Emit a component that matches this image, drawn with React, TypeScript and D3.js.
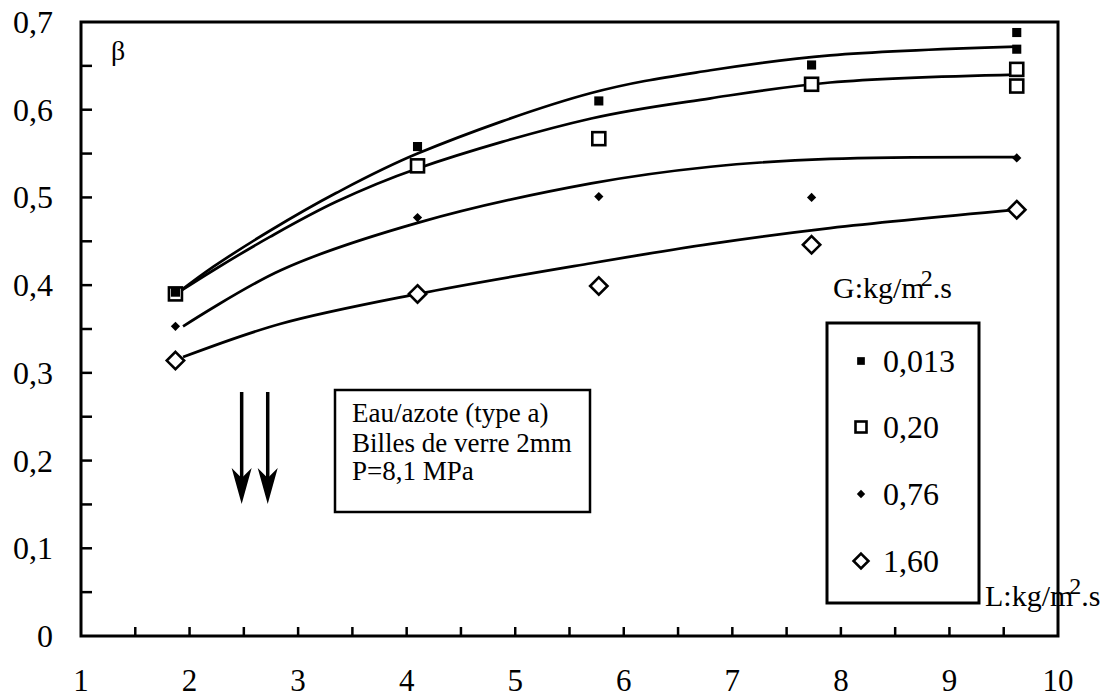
import React from "react";
import * as d3 from "d3";

// ---- data ----
const xTickValues = [1, 2, 3, 4, 5, 6, 7, 8, 9, 10];
const yTickValues = [0, 0.1, 0.2, 0.3, 0.4, 0.5, 0.6, 0.7];
const seriesLabels = ["0,013", "0,20", "0,76", "1,60"];
const seriesSymbols = ["filledSquare", "openSquare", "filledDiamond", "openDiamond"];

// measured points (L, beta)
const ptsG013 = [[1.87, 0.392], [4.1, 0.558], [5.77, 0.61], [7.73, 0.651], [9.62, 0.669], [9.62, 0.688]];
const ptsG020 = [[1.87, 0.39], [4.1, 0.536], [5.77, 0.567], [7.73, 0.629], [9.62, 0.627], [9.62, 0.646]];
const ptsG076 = [[1.87, 0.353], [4.1, 0.477], [5.77, 0.501], [7.73, 0.5], [9.62, 0.545]];
const ptsG160 = [[1.87, 0.314], [4.1, 0.39], [5.77, 0.399], [7.73, 0.446], [9.62, 0.486]];

// fitted curves
const fitG013X = [1.9, 2.22, 2.74, 3.35, 4.1, 5.7, 6.8, 7.9, 9.62];
const fitG013Y = [0.392, 0.421, 0.462, 0.505, 0.55, 0.619, 0.645, 0.662, 0.672];
const fitG020X = [1.9, 2.22, 2.74, 3.35, 4.1, 5.7, 6.8, 7.9, 9.62];
const fitG020Y = [0.392, 0.417, 0.455, 0.495, 0.533, 0.59, 0.613, 0.631, 0.64];
const fitG076X = [1.94, 2.84, 4.1, 5.7, 6.8, 7.9, 9.62];
const fitG076Y = [0.353, 0.417, 0.471, 0.516, 0.535, 0.544, 0.546];
const fitG160X = [1.94, 2.84, 4.1, 5.7, 6.8, 7.9, 9.62];
const fitG160Y = [0.318, 0.356, 0.39, 0.425, 0.447, 0.465, 0.486];

const boxLines = ["Eau/azote (type a)", "Billes de verre 2mm", "P=8,1 MPa"];
const arrowXs = [2.48, 2.72];

const FONT = "'Liberation Serif', 'Times New Roman', serif";

function Marker({ kind, cx, cy, s }: { kind: string; cx: number; cy: number; s: number }) {
  if (kind === "filledSquare") {
    return <rect x={cx - s * 0.35} y={cy - s * 0.35} width={s * 0.7} height={s * 0.7} fill="#000" />;
  }
  if (kind === "openSquare") {
    return <rect x={cx - s * 0.5} y={cy - s * 0.5} width={s} height={s} fill="#fff" stroke="#000" strokeWidth={2.6} />;
  }
  if (kind === "filledDiamond") {
    const r = s * 0.42;
    return <path d={`M${cx},${cy - r}L${cx + r},${cy}L${cx},${cy + r}L${cx - r},${cy}Z`} fill="#000" />;
  }
  const r = s * 0.62;
  return <path d={`M${cx},${cy - r}L${cx + r},${cy}L${cx},${cy + r}L${cx - r},${cy}Z`} fill="#fff" stroke="#000" strokeWidth={2.6} />;
}

export default function App() {
  const W = 1117, H = 699;
  const x = d3.scaleLinear().domain([1, 10]).range([81, 1058]);
  const y = d3.scaleLinear().domain([0, 0.7]).range([636, 22]);

  const line = d3
    .line<[number, number]>()
    .x((d) => x(d[0]))
    .y((d) => y(d[1]))
    .curve(d3.curveCatmullRom.alpha(0.5));

  const fits = [
    d3.zip(fitG013X, fitG013Y),
    d3.zip(fitG020X, fitG020Y),
    d3.zip(fitG076X, fitG076Y),
    d3.zip(fitG160X, fitG160Y),
  ] as [number, number][][];
  const pts = [ptsG013, ptsG020, ptsG076, ptsG160];
  const markerSize = [13, 13, 11, 14];

  const xMinor = d3.range(1.5, 10, 0.5);
  const yMinor = d3.range(1, 14).map((i) => i * 0.05);

  const legendRows = [372, 438, 505, 572];

  return (
    <svg
      width={W}
      height={H}
      style={{ position: "absolute", left: 0, top: 0, background: "#fff" }}
      fontFamily={FONT}
    >
      <rect x={0} y={0} width={W} height={H} fill="#fff" />

      {/* curves */}
      {fits.map((f, i) => (
        <path key={"c" + i} d={line(f) || ""} fill="none" stroke="#000" strokeWidth={2.7} />
      ))}

      {/* points */}
      {[3, 2, 1, 0].map((si) =>
        pts[si].map((p, j) => (
          <Marker key={`m${si}-${j}`} kind={seriesSymbols[si]} cx={x(p[0])} cy={y(p[1])} s={markerSize[si]} />
        ))
      )}

      {/* frame */}
      <rect x={x(1)} y={y(0.7)} width={x(10) - x(1)} height={y(0) - y(0.7)} fill="none" stroke="#000" strokeWidth={3} />

      {/* y ticks */}
      {yMinor.map((v, i) => (
        <line key={"yt" + i} x1={x(1)} x2={x(1) + 11} y1={y(v)} y2={y(v)} stroke="#000" strokeWidth={2.5} />
      ))}
      {/* x ticks */}
      {xMinor.map((v, i) => (
        <line key={"xt" + i} x1={x(v)} x2={x(v)} y1={y(0)} y2={y(0) - 9} stroke="#000" strokeWidth={2.5} />
      ))}

      {/* y labels */}
      {yTickValues.map((v, i) => (
        <text key={"yl" + i} x={53} y={y(v) + 11} textAnchor="end" fontSize={32}>
          {v === 0 ? "0" : d3.format(".1f")(v).replace(".", ",")}
        </text>
      ))}
      {/* x labels */}
      {xTickValues.map((v, i) => (
        <text key={"xl" + i} x={x(v)} y={691} textAnchor="middle" fontSize={31}>
          {String(v)}
        </text>
      ))}

      {/* beta */}
      <text x={111} y={60} fontSize={28}>β</text>

      {/* arrows */}
      {arrowXs.map((a, i) => {
        const ax = x(a);
        return (
          <g key={"ar" + i}>
            <line x1={ax} x2={ax} y1={392} y2={485} stroke="#000" strokeWidth={3.5} />
            <path d={`M${ax},${504}L${ax - 10},${468}L${ax},${478}L${ax + 10},${468}Z`} fill="#000" />
          </g>
        );
      })}

      {/* text box */}
      <rect x={335} y={390} width={255} height={122} fill="#fff" stroke="#000" strokeWidth={2.5} />
      {boxLines.map((t, i) => (
        <text key={"bl" + i} x={352} y={[422, 452, 480][i]} fontSize={27}>
          {t}
        </text>
      ))}

      {/* G label */}
      <text x={833} y={298} fontSize={30}>
        G:kg/m<tspan dy={-12} dx={-4} fontSize={24}>2</tspan><tspan dy={12}>.s</tspan>
      </text>

      {/* legend */}
      <rect x={827} y={323} width={152} height={280} fill="#fff" stroke="#000" strokeWidth={3} />
      {seriesLabels.map((lab, i) => (
        <g key={"lg" + i}>
          <Marker kind={seriesSymbols[i]} cx={861} cy={legendRows[i] - 11} s={[11, 11, 10, 12][i]} />
          <text x={883} y={legendRows[i]} fontSize={32}>
            {lab}
          </text>
        </g>
      ))}

      {/* L label */}
      <text x={985} y={606} fontSize={30}>
        L:kg/m<tspan dy={-12} dx={-4} fontSize={24}>2</tspan><tspan dy={12}>.s</tspan>
      </text>
    </svg>
  );
}
